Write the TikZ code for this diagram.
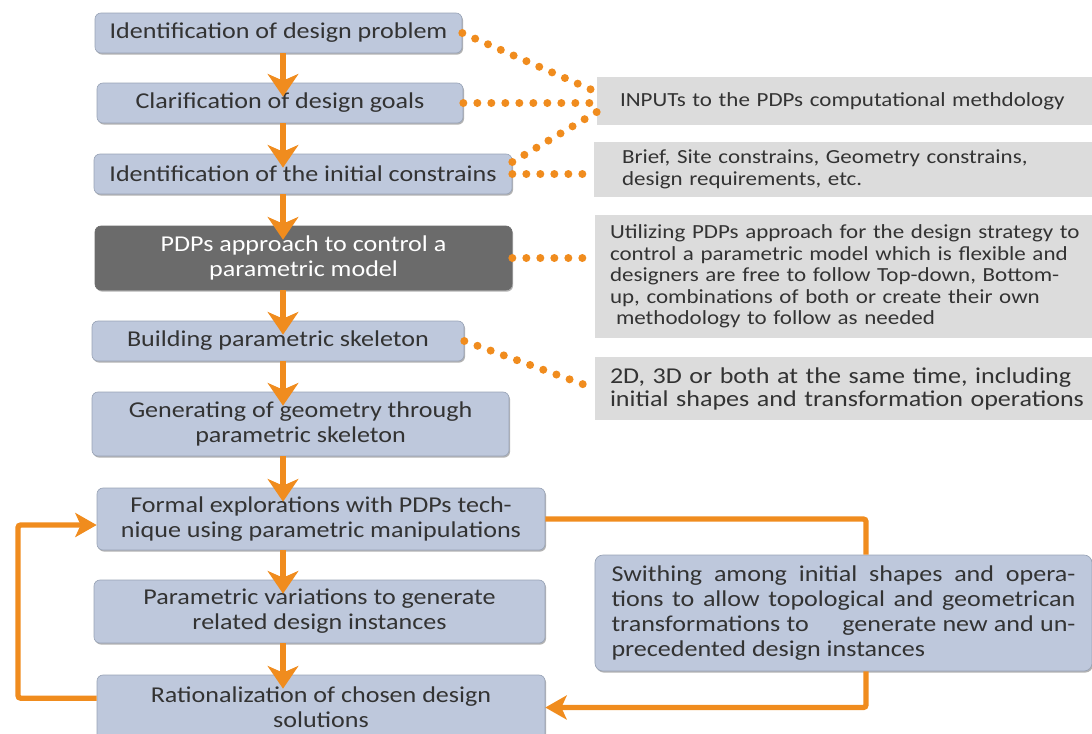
\documentclass[tikz,border=0pt]{standalone}
\usepackage{fontspec}
\setmainfont{Carlito}[FakeStretch=1.15]
\usetikzlibrary{arrows.meta,shadows}
\definecolor{boxblue}{HTML}{BEC8DC}
\definecolor{boxedge}{HTML}{98A3B6}
\definecolor{darkbox}{HTML}{6B6B6B}
\definecolor{notegray}{HTML}{DCDCDC}
\definecolor{flowor}{HTML}{F08C1E}
\definecolor{inktext}{HTML}{333333}
\begin{document}
\begin{tikzpicture}[x=0.75pt,y=-0.75pt,
  bigtxt/.style={font=\fontsize{17}{18.75}\selectfont},
  smalltxt/.style={font=\fontsize{15}{16.1}\selectfont},
  stepbox/.style={bigtxt, draw=boxedge, line width=0.5pt, fill=boxblue,
    rounded corners=4.5pt, text=inktext, align=center, inner sep=0pt,
    drop shadow={shadow xshift=0.8pt, shadow yshift=-1.2pt, opacity=0.3, fill=black}},
  keybox/.style={stepbox, fill=darkbox, draw=darkbox, text=white},
  notebox/.style={smalltxt, fill=notegray, text=inktext, align=left, inner ysep=0pt},
  flow/.style={draw=flowor, line width=4.5pt,
    -{Stealth[length=17pt, width=23pt, inset=5pt]}},
  flowline/.style={draw=flowor, line width=4pt, rounded corners=2pt},
  loopflow/.style={flowline, -{Stealth[length=16pt, width=18pt, inset=4pt]}},
  dotline/.style={draw=flowor, line width=6pt, line cap=round,
    dash pattern=on 0pt off 10.5pt},
]
\useasboundingbox (0,0) rectangle (1092,733);
\begin{scope}
\clip (0,0) rectangle (1092,733);

% main process column
\node[stepbox, minimum width=275.25pt, minimum height=30pt]    (b1) at (278.5,33)   {Identification of design problem};
\node[stepbox, minimum width=274.5pt,  minimum height=30pt]    (b2) at (280,103)    {Clarification of design goals};
\node[stepbox, minimum width=313.5pt,  minimum height=30pt]    (b3) at (303,174)    {Identification of the initial constrains};
\node[keybox,  minimum width=312.75pt, minimum height=48pt]    (b4) at (303.5,258)  {PDPs approach to control a\\parametric model};
\node[stepbox, minimum width=279pt,    minimum height=30pt]    (b5) at (278,341)    {Building parametric skeleton};
\node[stepbox, minimum width=312.75pt, minimum height=48pt]    (b6) at (300.5,424)  {Generating of geometry through\\parametric skeleton};
\node[stepbox, minimum width=336pt,    minimum height=46.5pt]  (b7) at (321,519)    {Formal explorations with PDPs tech-\\nique using parametric manipulations};
\node[stepbox, minimum width=338.25pt, minimum height=47.25pt] (b8) at (319.5,611.5){Parametric variations to generate\\related design instances};
\node[stepbox, minimum width=336pt,    minimum height=48.75pt] (b9) at (321,707.5)  {Rationalization of chosen design\\solutions};

% annotation boxes
\node[notebox, minimum height=36pt, text width=336.75pt, inner xsep=17.25pt] (na) at (844.5,101)
  {\mbox{INPUTs to the PDPs computational methdology}};
\node[notebox, minimum height=41.25pt, text width=331.5pt, inner xsep=21pt] (nb) at (843,169.5)
  {\mbox{Brief, Site constrains, Geometry constrains,}\\design requirements, etc.};
\node[notebox, minimum height=92.25pt, text width=350.25pt, inner xsep=11.25pt] (nc) at (843.5,276.5)
  {\mbox{Utilizing PDPs approach for the design strategy to}\\
   \mbox{control a parametric model which is flexible and}\\
   \mbox{designers are free to follow Top-down, Bottom-}\\
   \mbox{up, combinations of both or create their own}\\
   \hspace*{0.3em}methodology to follow as needed};
\node[notebox, bigtxt, minimum height=47.25pt, text width=350.25pt, inner xsep=11.25pt,
  font=\fontsize{17}{17.25}\selectfont] (nd) at (843.5,388.5)
  {\mbox{2D, 3D or both at the same time, including}\\
   \mbox{initial shapes and transformation operations}};
\node[stepbox, rounded corners=6pt, align=justify, minimum height=87pt, text width=348pt,
  inner xsep=12.4pt] (sw) at (843.5,613)
  {Swithing among initial shapes and opera-\linebreak
   tions to allow topological and geometrican\linebreak
   transformations to\hspace{1.2em} generate new and un-\linebreak
   precedented design instances};

% main sequence arrows
\coordinate (spine) at (283,0);
\foreach \a/\b in {b1/b2,b2/b3,b3/b4,b4/b5,b5/b6,b6/b7,b7/b8,b8/b9}
  \draw[flow, shorten >=-10.5pt] (\a.south -| spine) -- (\b.north -| spine);

% dotted links to the annotations
\draw[dotline] (b1.east) -- ([yshift=6.75pt]na.west);
\draw[dotline] (b2.east) -- (na.west |- b2.east);
\draw[dotline] ([yshift=9pt]b3.east) -- ([yshift=-8.25pt]na.west);
\draw[dotline] (b3.east) -- (nb.west |- b3.east);
\draw[dotline] (b4.east) -- (nc.west |- b4.east);
\draw[dotline] (b5.east) -- (nd.west);

% feedback loops
\coordinate (lx) at (18,0);
\coordinate (rx) at (866,0);
\coordinate (backout) at ([yshift=7pt]b9.west);
\coordinate (backin) at ([yshift=-4.5pt]b7.west);
\draw[loopflow] (backout) -- (backout -| lx) -- (backin -| lx) -- (backin);
\draw[flowline] (b7.east) -| (sw.north -| rx);
\draw[loopflow] (sw.south -| rx) |- (b9.east);
\end{scope}
\end{tikzpicture}
\end{document}
